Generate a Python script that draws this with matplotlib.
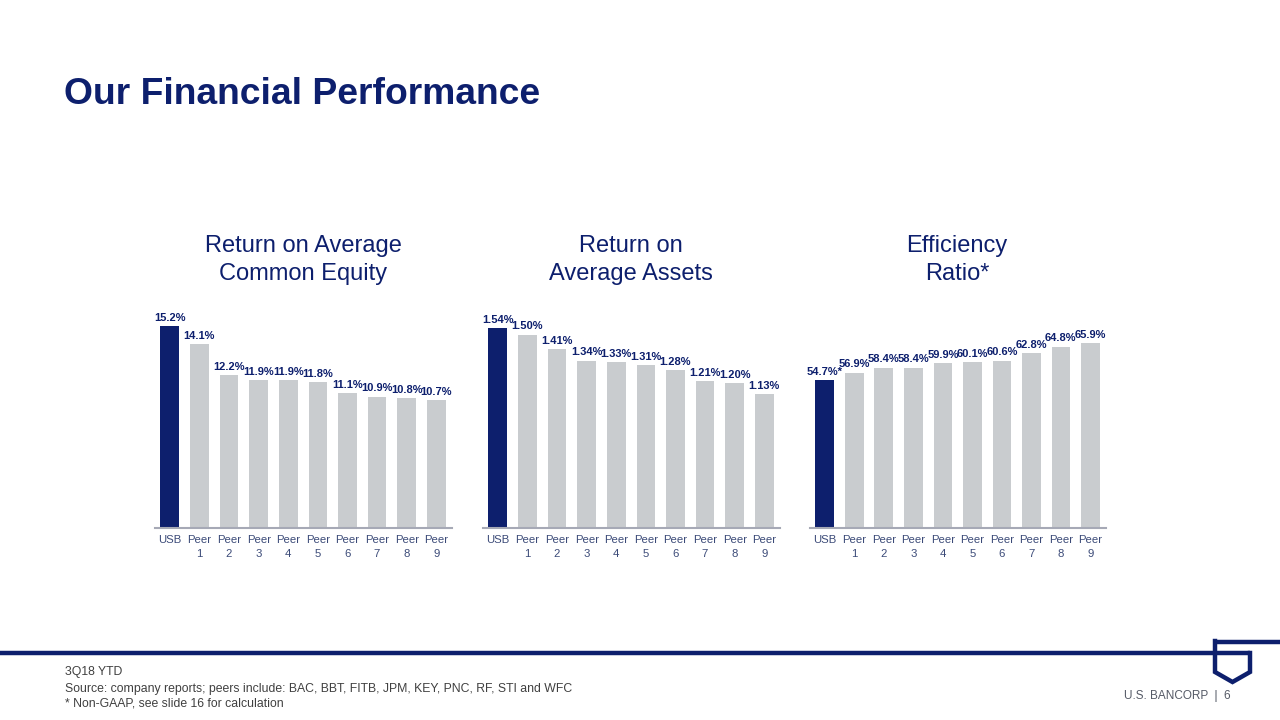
import matplotlib
matplotlib.use("Agg")
import matplotlib.pyplot as plt

plt.rcParams['font.family'] = ['Liberation Sans', 'DejaVu Sans']

# data
categories = ["USB", "Peer\n1", "Peer\n2", "Peer\n3", "Peer\n4", "Peer\n5",
              "Peer\n6", "Peer\n7", "Peer\n8", "Peer\n9"]
roe = [15.2, 14.1, 12.2, 11.9, 11.9, 11.8, 11.1, 10.9, 10.8, 10.7]
roa = [1.54, 1.50, 1.41, 1.34, 1.33, 1.31, 1.28, 1.21, 1.20, 1.13]
eff = [54.7, 56.9, 58.4, 58.4, 59.9, 60.1, 60.6, 62.8, 64.8, 65.9]

roe_labels = ["15.2%", "14.1%", "12.2%", "11.9%", "11.9%", "11.8%", "11.1%", "10.9%", "10.8%", "10.7%"]
roa_labels = ["1.54%", "1.50%", "1.41%", "1.34%", "1.33%", "1.31%", "1.28%", "1.21%", "1.20%", "1.13%"]
eff_labels = ["54.7%*", "56.9%", "58.4%", "58.4%", "59.9%", "60.1%", "60.6%", "62.8%", "64.8%", "65.9%"]

titles = ["Return on Average\nCommon Equity", "Return on\nAverage Assets", "Efficiency\nRatio*"]

NAVY = "#0d1f6d"
GRAY = "#c9cccf"
TICK = "#3b4a78"

W, H = 1280, 720
fig = plt.figure(figsize=(12.8, 7.2), dpi=100)

# background axes in pixel coordinates for slide furniture
bg = fig.add_axes([0, 0, 1, 1])
bg.set_xlim(0, W)
bg.set_ylim(H, 0)
bg.axis("off")

bg.text(64, 95, "Our Financial Performance", fontsize=26.8, fontweight="bold",
        color=NAVY, va="center", ha="left")

# footer rule and logo
lw = 3.2
bg.plot([0, 1250], [653, 653], color=NAVY, lw=lw, solid_capstyle="butt")
bg.plot([1215, 1280], [642, 642], color=NAVY, lw=lw, solid_capstyle="butt")
bg.plot([1215, 1215, 1232.5, 1250, 1250], [641, 672, 682, 672, 653],
        color=NAVY, lw=lw, solid_joinstyle="miter")

bg.text(65, 672, "3Q18 YTD", fontsize=8.8, color="#404040", va="center")
bg.text(65, 689, "Source: company reports; peers include: BAC, BBT, FITB, JPM, KEY, PNC, RF, STI and WFC",
        fontsize=8.8, color="#404040", va="center")
bg.text(65, 704, "* Non-GAAP, see slide 16 for calculation", fontsize=8.8, color="#404040", va="center")
bg.text(1124, 696, "U.S. BANCORP  |  6", fontsize=8.5, color="#555a66", va="center")

# chart axes: (left px, width px, ylim, values, labels, title centre x)
specs = [
    (155, 297, (2.9, 16.8), roe, roe_labels, 303),
    (483, 297, (0.30, 1.716), roa, roa_labels, 631),
    (810, 296, (9.9, 79.0), eff, eff_labels, 957),
]

bottom_px, top_px = 528, 300
for (left, width, ylim, vals, labs, cx), title in zip(specs, titles):
    ax = fig.add_axes([left / W, 1 - bottom_px / H, width / W, (bottom_px - top_px) / H])
    colors = [NAVY] + [GRAY] * (len(vals) - 1)
    x = list(range(len(vals)))
    bars = ax.bar(x, vals, width=0.63, color=colors)
    ax.set_xlim(-0.5, 9.53)
    ax.set_ylim(*ylim)
    for b, lab in zip(bars, labs):
        ax.annotate(lab, (b.get_x() + b.get_width() / 2, b.get_height()),
                    xytext=(0, 2.5), textcoords="offset points", ha="center", va="bottom",
                    fontsize=8, fontweight="bold", color=NAVY)
    ax.set_xticks(x)
    ax.set_xticklabels(categories, fontsize=8.2, color=TICK, linespacing=1.55)
    ax.tick_params(axis="x", length=0, pad=5)
    ax.set_yticks([])
    for s in ["top", "left", "right"]:
        ax.spines[s].set_visible(False)
    ax.spines["bottom"].set_color("#a6a9b6")
    ax.spines["bottom"].set_linewidth(1.5)
    ax.patch.set_alpha(0)

    bg.text(cx, 260, title, fontsize=17, color=NAVY, ha="center", va="center", linespacing=1.3)

fig.savefig("out.png", dpi=100)
